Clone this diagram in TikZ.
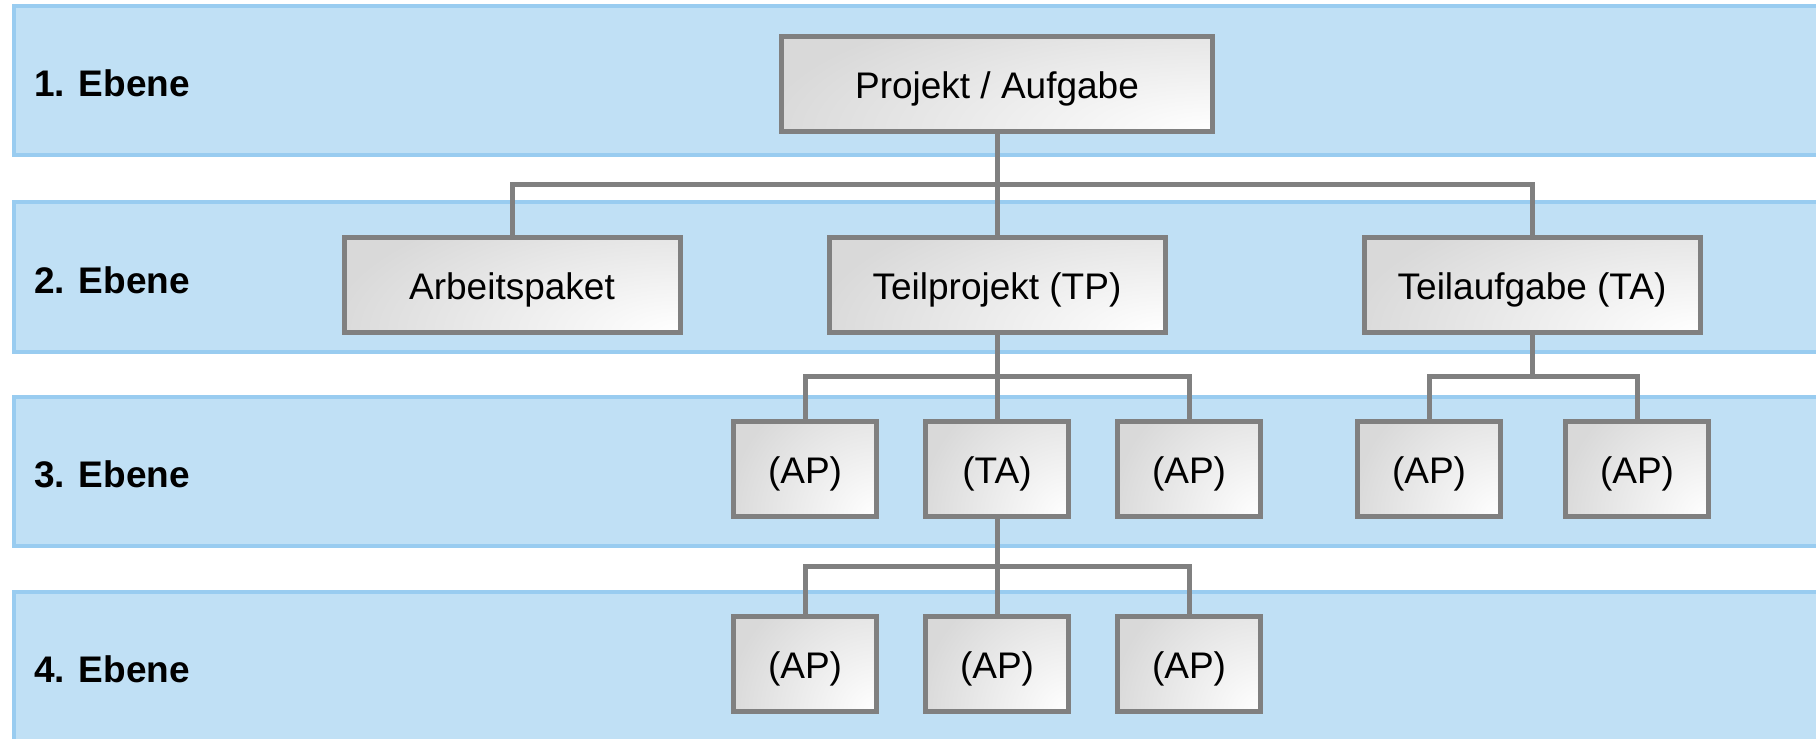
\documentclass[tikz,border=0pt]{standalone}
\usepackage{fontspec}
\setmainfont{Liberation Sans}
\usetikzlibrary{calc}
\definecolor{bandfill}{RGB}{192,224,245}
\definecolor{bandline}{RGB}{153,204,240}
\definecolor{boxline}{RGB}{128,128,128}
\definecolor{boxfill}{RGB}{217,217,217}
\begin{document}
\begin{tikzpicture}[x=1pt,y=-1pt,
  band/.style={fill=bandfill, draw=bandline, line width=4pt},
  lvl/.style={anchor=base west, inner sep=0pt, font=\fontsize{37}{44}\selectfont\bfseries},
  wbs/.style={draw=boxline, line width=5pt, fill=boxfill, inner sep=0pt,
    minimum height=95pt, text height=36pt, text depth=7pt,
    font=\fontsize{37}{44}\selectfont,
    path picture={\shade[inner color=white, outer color=boxfill] let \p1=(path picture bounding box.north east), \p2=(path picture bounding box.south west) in (\x1,\y2) ellipse [x radius={1.05*(\x1-\x2)}, y radius={1.5*(\y1-\y2)}];}},
  wide/.style={wbs, minimum width=336pt},
  small/.style={wbs, minimum width=143pt},
  conn/.style={draw=boxline, line width=5pt}]
\useasboundingbox (0,0) rectangle (1816,739);
\clip (0,0) rectangle (1816,739);
% level bands
\path[band] (14,6) rectangle (1840,155);
\path[band] (14,202) rectangle (1840,352);
\path[band] (14,397) rectangle (1840,546);
\path[band] (14,592) rectangle (1840,741);
% level labels
\node[lvl] (L1) at (34,96.5) {1. Ebene};
\node[lvl] (L2) at (34,293) {2. Ebene};
\node[lvl] (L3) at (34,487.5) {3. Ebene};
\node[lvl] (L4) at (34,682.5) {4. Ebene};
% boxes
\node[wbs, minimum width=431pt] (P) at (997,84) {Projekt / Aufgabe};
\node[wide] (AP) at (512,284.5) {Arbeitspaket};
\node[wide] (TP) at (997,284.5) {Teilprojekt (TP)};
\node[wide] (TA) at (1532,284.5) {Teilaufgabe (TA)};
\node[small] (TPa) at (805,469) {(AP)};
\node[small] (TPb) at (997,469) {(TA)};
\node[small] (TPc) at (1189,469) {(AP)};
\node[small] (TAa) at (1429,469) {(AP)};
\node[small] (TAb) at (1637,469) {(AP)};
\node[small] (Ba) at (805,664) {(AP)};
\node[small] (Bb) at (997,664) {(AP)};
\node[small] (Bc) at (1189,664) {(AP)};
% connectors
\coordinate (m1) at ($(P.south)!0.5!(TP.north)$);
\draw[conn] (P.south) -- (TP.north);
\draw[conn] (AP.north) |- (m1) -| (TA.north);
\coordinate (m2) at ($(TP.south)!0.5!(TPb.north)$);
\draw[conn] (TP.south) -- (TPb.north);
\draw[conn] (TPa.north) |- (m2) -| (TPc.north);
\coordinate (m3) at ($(TA.south)!0.5!(TAa.north)$);
\draw[conn] (TA.south) -- (TA.south |- m3);
\draw[conn] (TAa.north) |- (m3) -| (TAb.north);
\coordinate (m4) at ($(TPb.south)!0.5!(Bb.north)$);
\draw[conn] (TPb.south) -- (Bb.north);
\draw[conn] (Ba.north) |- (m4) -| (Bc.north);
\end{tikzpicture}
\end{document}
